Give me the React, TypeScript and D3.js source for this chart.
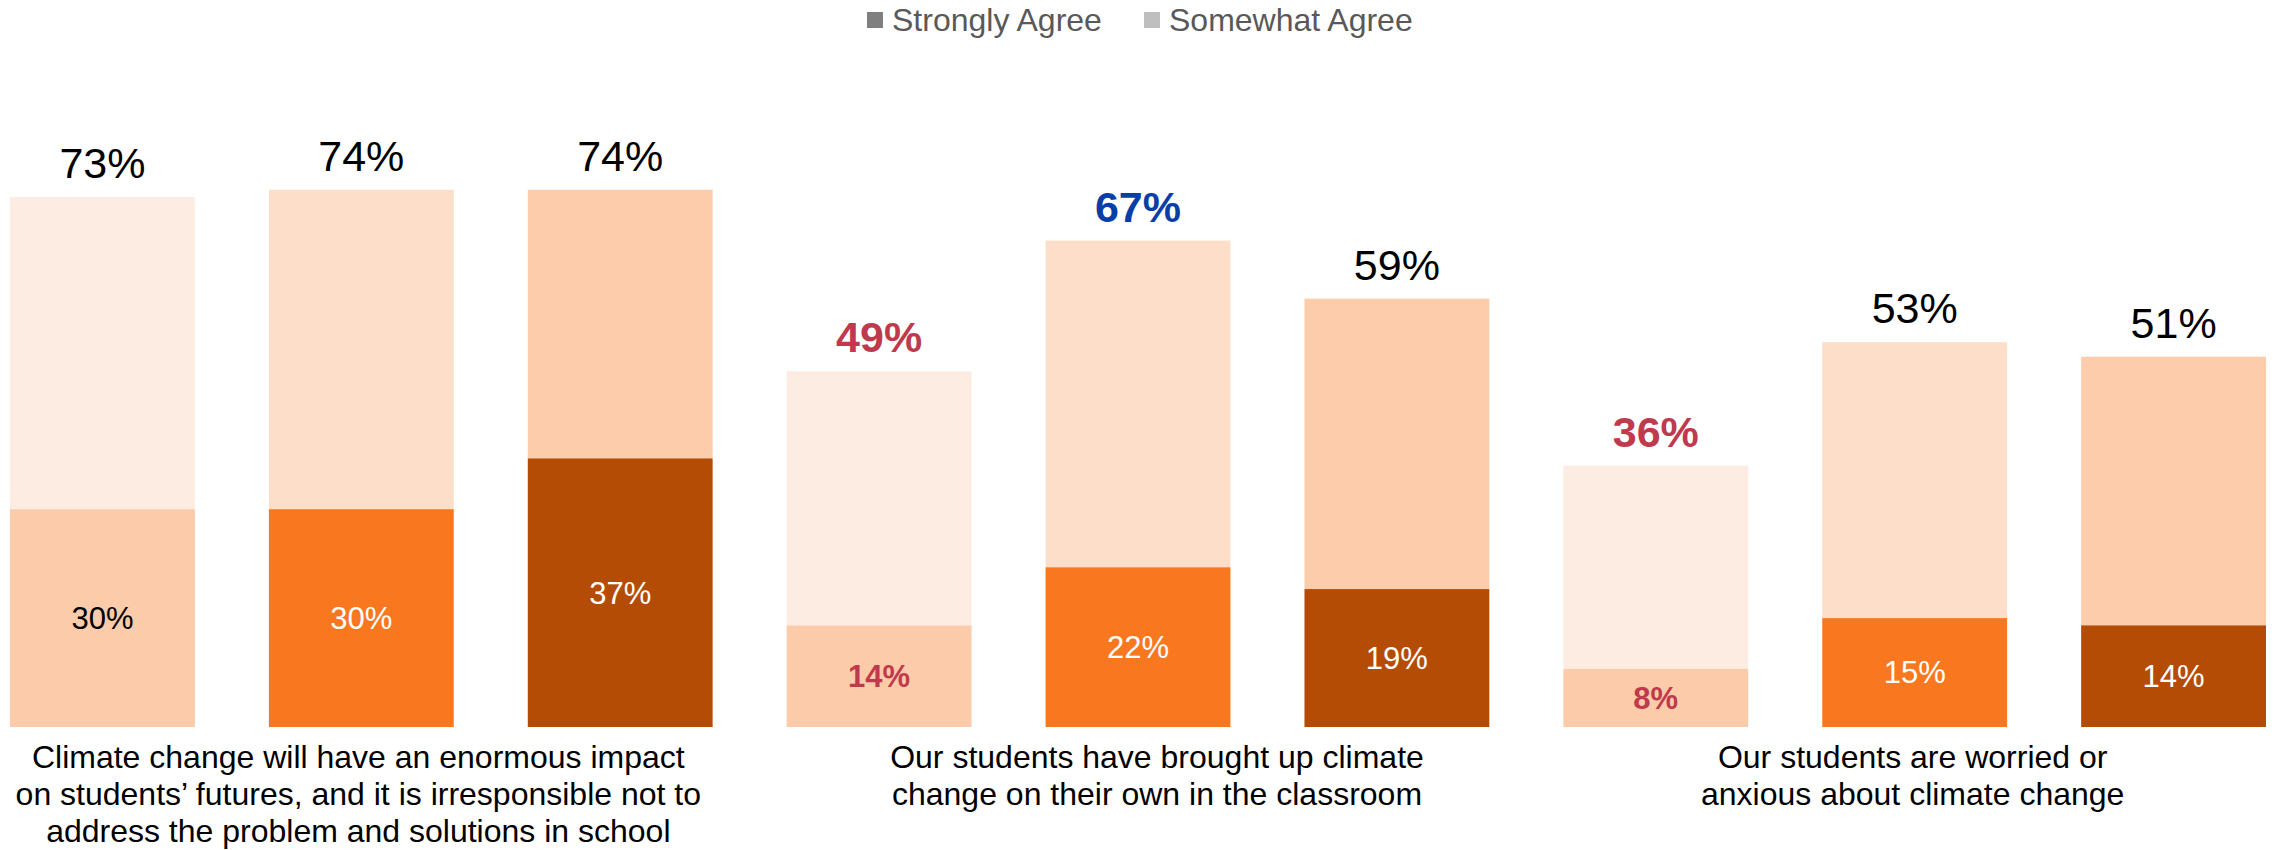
import React from "react";
import * as d3 from "d3";

const W = 2274;
const H = 850;

const categoryLines: string[][] = [
  [
    "Climate change will have an enormous impact",
    "on students\u2019 futures, and it is irresponsible not to",
    "address the problem and solutions in school",
  ],
  ["Our students have brought up climate", "change on their own in the classroom"],
  ["Our students are worried or", "anxious about climate change"],
];

const totalAgree: number[][] = [
  [73, 74, 74],
  [49, 67, 59],
  [36, 53, 51],
];
const stronglyAgree: number[][] = [
  [30, 30, 37],
  [14, 22, 19],
  [8, 15, 14],
];

const legendItems = ["Strongly Agree", "Somewhat Agree"];
const legendColors = ["#7F7F7F", "#BFBFBF"];

const strongColors = ["#FCCBAA", "#F9781F", "#B54C05"];
const somewhatColors = ["#FDECE2", "#FCDEC9", "#FCCCAB"];

const RED = "#BF3A4C";
const BLUE = "#0A3EA7";
const totalHighlight: (string | null)[][] = [
  [null, null, null],
  [RED, BLUE, null],
  [RED, null, null],
];
const innerHighlight: (string | null)[][] = [
  [null, null, null],
  [RED, null, null],
  [RED, null, null],
];

// horizontal nudge of each category caption relative to its middle bar
const captionShift = [-3, 19, -2];

const FONT = "'Liberation Sans', Arial, Helvetica, sans-serif";

export default function App() {
  const bars = totalAgree.flatMap((grp, gi) =>
    grp.map((t, bi) => ({
      key: `${gi}-${bi}`,
      gi,
      bi,
      total: t,
      strong: stronglyAgree[gi][bi],
    }))
  );

  const x = d3
    .scaleBand<string>()
    .domain(bars.map((b) => b.key))
    .range([10, 2266])
    .paddingInner(0.286)
    .paddingOuter(0);

  const y = d3.scaleLinear().domain([0, 100]).range([727, 1]);
  const bw = x.bandwidth();

  return (
    <svg
      width={W}
      height={H}
      style={{ position: "absolute", left: 0, top: 0, background: "#fff", fontFamily: FONT }}
    >
      <g>
        <rect x={867} y={12} width={16} height={16} fill={legendColors[0]} />
        <text x={892} y={31} fontSize={32} fill="#595959">
          {legendItems[0]}
        </text>
        <rect x={1144} y={12} width={16} height={16} fill={legendColors[1]} />
        <text x={1169} y={31} fontSize={32} fill="#595959">
          {legendItems[1]}
        </text>
      </g>

      {bars.map((b) => {
        const x0 = x(b.key)!;
        const cx = x0 + bw / 2;
        const th = totalHighlight[b.gi][b.bi];
        const ih = innerHighlight[b.gi][b.bi];
        const innerColor = ih ? ih : b.bi === 0 ? "#000" : "#fff";
        return (
          <g key={b.key}>
            <rect
              x={x0}
              y={y(b.total)}
              width={bw}
              height={y(b.strong) - y(b.total)}
              fill={somewhatColors[b.bi]}
            />
            <rect
              x={x0}
              y={y(b.strong)}
              width={bw}
              height={y(0) - y(b.strong)}
              fill={strongColors[b.bi]}
            />
            <text
              x={cx}
              y={y(b.total) - 19}
              textAnchor="middle"
              fontSize={43}
              fontWeight={th ? "bold" : "normal"}
              fill={th ? th : "#000"}
            >
              {b.total}%
            </text>
            <text
              x={cx}
              y={(y(b.strong) + y(0)) / 2}
              dy="0.35em"
              textAnchor="middle"
              fontSize={31}
              fontWeight={ih ? "bold" : "normal"}
              fill={innerColor}
            >
              {b.strong}%
            </text>
          </g>
        );
      })}

      {categoryLines.map((lines, gi) => {
        const mid = x(`${gi}-1`)! + bw / 2 + captionShift[gi];
        return (
          <text key={gi} textAnchor="middle" fontSize={32} fill="#000">
            {lines.map((l, li) => (
              <tspan key={li} x={mid} y={768 + li * 37}>
                {l}
              </tspan>
            ))}
          </text>
        );
      })}
    </svg>
  );
}
